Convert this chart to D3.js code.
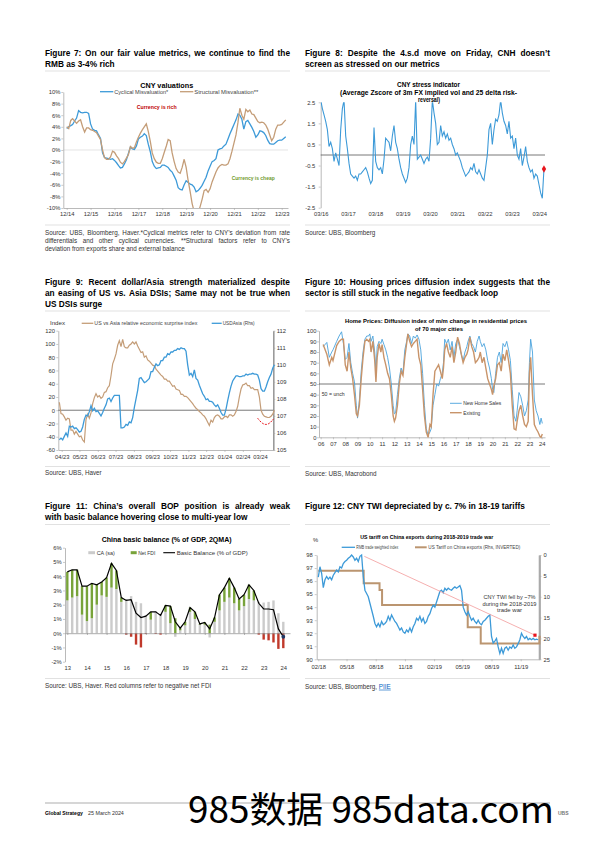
<!DOCTYPE html>
<html><head><meta charset="utf-8">
<script src="https://cdn.jsdelivr.net/npm/d3@7"></script>
<style>
body{margin:0;background:#fff;}
#page{position:relative;width:595px;height:842px;overflow:hidden;background:#fff;}
</style></head>
<body><div id="page"></div>
<script>
// ---------------- DATA ----------------
// Figure 7: CNY valuations, monthly from Dec 2014 (%)
const cyclical7 = [3.7,4.0,4.2,4.4,5.0,5.5,6.8,6.5,6.4,6.5,6.5,6.3,
4.5,3.6,3.4,3.3,2.6,2.0,-0.5,-1.3,-1.4,-1.5,-1.6,-1.5,
-1.8,-2.2,-2.7,-3.1,-3.0,-2.4,-1.7,-0.6,0.5,0.2,0.1,0.7,
1.9,2.2,2.4,2.8,2.5,1.0,-0.3,-2.0,-2.8,-3.2,-3.1,-3.0,
-2.6,-2.6,-2.8,-3.0,-3.5,-3.8,-4.5,-5.2,-6.5,-6.8,-6.9,-6.0,
-5.3,-5.6,-5.9,-6.0,-6.4,-7.2,-7.0,-6.6,-6.1,-5.4,-4.7,-3.6,
-2.8,-2.0,-1.8,-1.5,0.0,0.2,0.3,0.7,1.0,1.9,2.8,3.6,
4.4,5.2,6.2,6.0,5.3,3.6,4.9,5.1,4.5,3.9,3.2,2.2,
2.6,3.3,3.2,3.0,2.5,1.7,1.1,1.0,1.0,1.3,1.6,1.7,
1.7,2.0,2.3];
const structural7 = [4.0,3.7,5.1,5.4,5.0,4.6,5.0,5.2,4.0,3.1,3.8,3.8,
3.5,3.4,3.2,3.0,2.4,1.8,0.0,-1.3,-1.6,-1.6,-1.2,-0.2,
-0.4,-1.0,-1.5,-2.1,-2.4,-2.0,-1.4,-0.8,0.6,0.3,0.4,1.4,
2.2,2.9,3.5,4.0,4.5,3.2,1.5,-0.5,-1.5,-2.1,-2.3,-2.3,
-1.5,-0.4,0.7,1.8,1.6,-0.5,-2.0,-3.2,-3.8,-4.0,-3.0,-1.6,
-3.0,-5.3,-7.2,-9.2,-10.6,-11.0,-10.8,-9.8,-8.5,-7.0,-6.8,-7.3,
-6.7,-5.5,-4.6,-3.8,-3.1,-2.7,-2.5,-2.6,-2.6,-2.4,-1.5,-0.2,
1.2,2.6,4.8,7.2,6.0,5.3,7.0,6.6,6.9,6.2,6.1,5.5,
4.9,4.7,4.8,4.7,4.3,3.6,2.6,1.6,2.2,3.6,4.3,4.3,
4.4,4.8,5.2];
const ticks7 = ["12/14","12/15","12/16","12/17","12/18","12/19","12/20","12/21","12/22","12/23"];

// Figure 8: CNY stress indicator (z-score), from Mar 2016
const stress8 = [2.6,2.2,1.9,1.6,1.2,0.4,0.6,0.3,-0.3,0.1,
-0.2,-0.5,1.2,2.2,2.6,0.9,0.3,-0.4,-0.9,-1.0,
-1.1,-1.0,-1.2,-0.9,-0.9,-0.8,-0.7,-0.6,-0.8,-1.1,
-1.35,-1.2,1.3,-0.3,-0.6,-0.7,-0.6,-0.9,-0.2,0.8,
0.7,0.6,0.2,0.9,1.4,0.6,0.3,-0.2,-0.6,-0.9,
-1.1,-1.3,-1.1,-0.6,0.5,0.9,0.5,2.6,-0.2,-0.1,
0.0,-0.2,-0.4,-0.2,-0.1,-0.3,0.8,2.6,2.0,1.5,
0.5,0.6,1.4,0.9,1.1,0.8,1.0,0.7,0.8,0.5,
0.3,0.0,0.1,-0.1,-0.3,-0.6,-0.8,-1.0,-0.9,-0.8,
-0.6,-0.7,-0.4,-0.8,-0.9,-0.7,-0.9,-1.1,-1.2,-0.6,
0.0,1.2,1.5,0.5,1.2,1.7,1.6,1.9,2.6,2.0,
1.6,1.4,1.0,1.6,0.8,0.9,0.3,0.8,0.0,-0.2,
0.3,-0.5,-0.1,0.4,-0.3,-0.6,-0.8,-0.7,-1.1,-0.9,
-1.0,-1.4,-1.8,-2.05,-0.66];
const ticks8 = ["03/16","03/17","03/18","03/19","03/20","03/21","03/22","03/23","03/24"];

// Figure 9: US vs Asia surprise index (lhs) and USDAsia (rhs), from late Mar 2023
const surprise9 = [12,-5,-6,-10,-15,-12,-13,-30,-30,-36,
-32,-36,-40,-39,-45,-48,-14,-6,-12,-4,
10,19,25,20,22,18,20,27,28,34,
37,52,70,77,85,98,105,96,107,96,
94,94,98,100,103,100,103,97,92,87,
88,80,82,76,74,71,68,67,62,59,
56,53,51,47,47,44,44,40,36,37,
32,31,30,24,24,21,21,19,16,13,
10,6,3,1,-2,-4,-7,-9,-13,-18,
-23,-15,-18,-11,-8,-7,-9,-13,-13,-10,
-9,-11,-7,-7,-9,-7,-2,6,20,32,
38,39,41,37,37,33,34,31,31,31,
20,0,-6,-9,-10,-11,-11,-9,-6,0];
const usdasia9 = [105.6,105.7,105.6,105.8,106.0,105.8,106.4,106.35,106.4,106.25,
106.3,106.2,106.05,106.1,106.35,106.8,107.05,107.0,107.25,107.6,
107.3,107.45,107.25,107.3,107.15,107.0,107.2,107.45,107.65,108.0,
108.05,107.85,108.05,108.2,108.2,108.2,108.2,106.3,106.3,106.35,
106.5,106.45,106.65,106.6,106.9,107.5,108.0,108.5,109.2,109.25,
109.1,108.95,109.0,109.1,109.2,109.6,109.6,109.85,110.05,109.95,
110.0,110.25,110.25,110.45,110.45,110.65,110.6,110.75,110.75,110.85,
110.85,110.95,110.9,111.0,110.95,110.95,110.8,110.0,109.4,109.5,
109.3,109.7,109.2,109.1,108.8,108.55,108.3,108.15,107.95,108.0,
107.85,107.85,107.8,107.65,107.55,107.65,107.45,107.2,107.05,107.05,
107.4,107.9,108.35,108.75,109.05,109.2,109.35,109.35,109.3,109.3,
109.35,109.35,109.45,109.4,109.45,109.45,109.5,109.45,109.45,109.4,
109.1,108.6,108.45,108.45,108.7,109.0,109.25,109.45,109.8,110.0];

// Figure 10: Home price diffusion index
const years10 = [2006.2,2006.5,2006.7,2006.9,
2007.0,2007.3,2007.5,2007.7,2007.85,
2008.0,2008.15,2008.3,2008.45,2008.6,2008.75,2008.9,
2009.0,2009.15,2009.3,2009.45,2009.6,2009.75,2009.9,
2010.0,2010.1,2010.25,2010.4,2010.5,2010.6,2010.75,2010.9,
2011.0,2011.15,2011.3,2011.45,2011.6,2011.75,2011.9,
2012.0,2012.1,2012.25,2012.4,2012.55,2012.7,2012.85,
2013.0,2013.1,2013.25,2013.4,2013.55,2013.7,2013.85,
2014.0,2014.15,2014.3,2014.45,2014.6,2014.75,2014.9,
2015.0,2015.15,2015.3,2015.45,2015.6,2015.75,2015.9,
2016.0,2016.1,2016.25,2016.4,2016.55,2016.7,2016.85,
2017.0,2017.15,2017.3,2017.45,2017.6,2017.75,2017.9,
2018.0,2018.15,2018.3,2018.45,2018.6,2018.75,2018.9,
2019.0,2019.15,2019.3,2019.45,2019.6,2019.75,2019.9,
2020.0,2020.1,2020.25,2020.4,2020.55,2020.7,2020.85,
2021.0,2021.15,2021.3,2021.45,2021.6,2021.75,2021.9,
2022.0,2022.15,2022.3,2022.45,2022.6,2022.75,2022.9,
2023.0,2023.1,2023.25,2023.4,2023.55,2023.7,2023.85,2023.95,
2024.05];
const newHome10 = [85,89,75,80,
82,90,95,99,88,
73,75,88,70,60,52,30,
18,35,62,80,92,95,95,
97,90,95,80,62,85,90,88,
92,87,82,75,65,50,30,
22,23,40,55,65,60,82,
90,97,95,88,95,93,96,
92,82,60,30,8,2,5,
8,30,40,50,48,55,60,
70,92,88,92,82,90,75,
88,92,85,78,72,80,85,
90,95,88,85,80,90,95,
90,85,88,82,72,65,55,
45,42,60,75,80,70,88,
85,90,82,72,45,20,15,
25,42,38,30,20,25,35,
70,92,80,35,25,20,12,18,
13];
const existing10 = [87,78,68,75,
72,86,90,92,92,
68,62,80,65,55,40,22,
20,30,55,75,90,92,90,
92,80,90,72,52,75,88,80,
87,75,68,60,55,40,20,
15,18,30,50,62,58,75,
88,97,90,85,88,90,92,
75,68,45,20,5,0,12,
10,40,62,65,68,62,55,
65,82,88,80,75,85,70,
80,94,88,78,70,75,78,
82,94,85,80,70,72,75,
80,70,75,65,55,50,45,
40,48,55,68,70,62,78,
72,82,72,60,30,8,7,
15,25,30,20,12,10,15,
60,75,40,12,8,5,1,0,
3];

// Figure 11: China basic balance, quarterly from 2013 (% of GDP)
const ca11 = [2.3,2.5,2.6,1.3, 0.85,1.05,2.0,2.65, 2.55,3.2,3.1,2.2, 2.4,2.6,2.2,2.1,
1.25,0.95,1.55,1.35, 1.5,0.7,-0.25,0.2, 0.55,1.5,1.0,0.6, 0.6,-0.3,0.8,1.6,
2.2,2.5,2.1,1.6, 1.9,2.4,2.3,2.2, 2.15,2.2,2.3,1.4, 0.8];
const fdi11 = [2.0,1.95,1.85,2.0, 2.45,2.45,1.4,0.95, 1.35,1.7,1.3,0.3, -0.1,-0.25,-0.8,-1.0,
-0.05,0.55,-0.05,-0.1, 0.45,1.2,1.05,0.15, 0.25,0.3,0.5,0.05, 0.15,0.6,0.3,1.1,
1.0,1.35,1.1,0.8, 0.8,1.0,0.7,-0.1, -0.45,-0.5,-0.65,-1.1, -1.05];
const basic11 = [4.3,4.45,4.45,3.3, 3.3,3.5,3.4,3.6, 3.9,4.9,4.4,2.5, 2.3,2.35,1.4,1.1,
1.2,1.5,1.5,1.25, 1.95,1.9,0.8,0.35, 0.8,1.8,1.5,0.65, 0.75,0.3,1.1,2.7,
3.2,3.85,3.2,2.4, 2.7,3.4,3.0,2.1, 1.7,1.7,1.65,0.3, -0.25];

// Figure 12: RMB trade weighted index and US tariff
const twi12 = [96.3,97.1,96.6,95.5,96.1,96.35,96.15,96.3,96.1,96.45,
96.65,96.85,96.7,97.1,97.0,97.35,97.5,97.6,97.75,97.85,
98.0,97.85,97.6,97.75,97.5,97.9,98.0,96.35,95.3,95.05,
94.8,94.3,93.8,93.3,92.75,92.5,92.75,92.5,92.9,92.65,
92.75,92.9,93.3,93.0,93.4,93.15,92.9,92.75,92.5,92.25,
92.4,92.1,92.0,92.25,92.1,92.4,92.1,92.5,92.75,93.15,
93.0,93.3,92.9,93.15,92.75,92.9,93.3,93.5,93.9,94.15,
94.0,94.4,94.8,95.2,95.3,95.1,95.45,95.3,95.45,95.35,
95.3,95.45,95.55,95.45,95.55,95.65,95.3,94.0,93.65,93.4,
93.65,93.3,93.0,93.15,92.9,92.75,93.0,92.75,92.65,92.9,
93.0,93.15,93.3,93.4,91.75,91.25,91.4,91.6,90.95,90.45,
90.85,90.45,90.85,90.95,90.7,90.95,90.85,91.1,90.85,90.95,
91.2,91.5,92.0,91.75,91.6,91.75,91.5,91.6,91.5,91.6,
91.5,91.55,91.5];
const tariffDates12 = ["2018-02-01","2018-06-24","2018-08-13","2018-08-21","2019-05-18","2019-06-28","2019-12-30","2020-01-03"];
const tariffVals12 = [3.8,6.8,8.4,12.0,17.3,21.2,19.6,19.6];
const trend12 = [["2018-06-26",97.9],["2019-12-16",91.85]];
const ticks12 = ["2018-02-01","2018-05-01","2018-08-01","2018-11-01","2019-02-01","2019-05-01","2019-08-01","2019-11-01"];

// ---------------- DRAWING ----------------
const svg = d3.select('#page').append('svg').attr('width',595).attr('height',842);
const F = '"Liberation Sans", Arial, sans-serif';
const FN = '"Liberation Sans Narrow", "Liberation Sans", Arial, sans-serif';
const BLUE = '#3d9ad8', BROWN = '#c49d78', GREY = '#a8a8a8';
const parse = d3.timeParse('%Y-%m-%d');

function txt(g, s, x, y, o = {}) {
  const t = g.append('text').attr('x', x).attr('y', y).text(s)
    .attr('font-family', o.ff || FN).attr('font-size', o.fs || 5.8)
    .attr('fill', o.fill || '#333').attr('font-weight', o.fw || 'normal')
    .attr('text-anchor', o.anchor || 'start');
  if (o.len) t.attr('textLength', o.len).attr('lengthAdjust', 'spacingAndGlyphs');
  return t;
}
// text whose font size is scaled so its natural width equals w
function fitTxt(g, s, x, y, w, o) {
  const t = txt(g, s, x, y, o);
  const nat = t.node().getComputedTextLength();
  if (nat > 0) t.attr('font-size', (o.fs || 5.8) * w / nat);
  return t;
}
function justify(g, s, x, y, width, o) {
  const words = s.split(' ');
  const nodes = words.map(w => txt(g, w, 0, y, o));
  const ws = nodes.map(n => n.node().getComputedTextLength());
  const gap = (width - d3.sum(ws)) / (words.length - 1);
  let cx = x;
  nodes.forEach((n, i) => { n.attr('x', cx); cx += ws[i] + gap; });
}
function hline(g, x1, x2, y, c, w) { g.append('line').attr('x1', x1).attr('x2', x2).attr('y1', y).attr('y2', y).attr('stroke', c).attr('stroke-width', w); }
function ext(s, r0, r1) { return s.copy().domain([s.invert(r0), s.invert(r1)]).range([r0, r1]); }
function styleAxis(sel, o = {}) {
  sel.attr('font-family', null).attr('font-size', null);
  sel.select('.domain').attr('stroke', o.domain || GREY).attr('stroke-width', o.dw || 0.8);
  if (o.noDomain) sel.select('.domain').remove();
  sel.selectAll('.tick line').attr('stroke', o.tick || GREY).attr('stroke-width', 0.6);
  sel.selectAll('.tick text').attr('font-family', FN).attr('font-size', o.fs || 5.8).attr('fill', '#333');
}
const pct = d => (d < 0 ? '-' : '') + Math.abs(d) + '%';
const num = d => (d < 0 ? '-' : '') + Math.abs(d);

const TF = { ff: F, fs: 8.3, fw: 'bold', fill: '#000' };
const SF = { ff: F, fs: 6.3, fill: '#333' };

// Titles & sources
const T = svg.append('g');
justify(T, 'Figure 7: On our fair value metrics, we continue to find the', 45, 55.5, 245, TF);
txt(T, 'RMB as 3-4% rich', 45, 66.5, TF);
justify(T, 'Figure 8: Despite the 4.s.d move on Friday, CNH doesn\u2019t', 305, 55.5, 245, TF);
txt(T, 'screen as stressed on our metrics', 305, 66.5, TF);
justify(T, 'Figure 9: Recent dollar/Asia strength materialized despite', 45, 284.5, 245, TF);
justify(T, 'an easing of US vs. Asia DSIs; Same may not be true when', 45, 295.5, 245, TF);
txt(T, 'US DSIs surge', 45, 306.5, TF);
justify(T, 'Figure 10: Housing prices diffusion index suggests that the', 305, 284.5, 245, TF);
txt(T, 'sector is still stuck in the negative feedback loop', 305, 295.5, TF);
justify(T, 'Figure 11: China\u2019s overall BOP position is already weak', 45, 508.5, 245, TF);
txt(T, 'with basic balance hovering close to multi-year low', 45, 519.5, TF);
txt(T, 'Figure 12: CNY TWI depreciated by c. 7% in 18-19 tariffs', 305, 508.5, TF);

justify(T, 'Source: UBS, Bloomberg, Haver.*Cyclical metrics refer to CNY\u2019s deviation from rate', 45, 234.8, 245, SF);
justify(T, 'differentials and other cyclical currencies. **Structural factors refer to CNY\u2019s', 45, 243, 245, SF);
txt(T, 'deviation from exports share and external balance', 45, 251.2, SF);
txt(T, 'Source: UBS, Bloomberg', 305, 234.8, SF);
txt(T, 'Source: UBS, Haver', 45, 474.5, SF);
txt(T, 'Source: UBS, Macrobond', 305, 476, SF);
txt(T, 'Source: UBS, Haver. Red columns refer to negative net FDI', 45, 688, SF);
const s12 = txt(T, 'Source: UBS, Bloomberg, ', 305, 688.7, SF);
s12.append('tspan').text('PIIE').attr('fill', '#0563c1').attr('text-decoration', 'underline');

[71, 225, 311, 466.5, 524.5, 678.5].forEach(y => { hline(T, 45, 290, y, '#d4d4d4', 0.7); hline(T, 305, 550, y, '#d4d4d4', 0.7); });

// ---------- Figure 7 ----------
{
  const g = svg.append('g');
  const t0 = new Date(2014, 11, 1);
  const x = ext(d3.scaleTime().domain([t0, new Date(2023, 11, 1)]).range([66.7, 281.7]), 63.3, 288);
  const y = d3.scaleLinear().domain([-10, 10]).range([208, 92]);
  g.append('defs').append('clipPath').attr('id', 'cp7').append('rect').attr('x', 63.3).attr('y', 92).attr('width', 225).attr('height', 116);
  hline(g, 63.3, 288, y(0), '#d8d8d8', 0.7);
  g.append('g').attr('transform', 'translate(63.3,0)').call(d3.axisLeft(y).tickValues(d3.range(-10, 10.1, 2)).tickFormat(pct).tickSize(2).tickPadding(1).tickSizeOuter(0)).call(styleAxis);
  g.append('g').attr('transform', 'translate(0,208)').call(d3.axisBottom(x).tickValues(ticks7.map((_, i) => new Date(2014 + i, 11, 1))).tickFormat((d, i) => ticks7[i]).tickSize(2).tickPadding(2).tickSizeOuter(0)).call(styleAxis);
  const line = d3.line().x((d, i) => x(d3.timeMonth.offset(t0, i))).y(d => y(d));
  const pg = g.append('g').attr('clip-path', 'url(#cp7)');
  pg.append('path').attr('d', line(cyclical7)).attr('fill', 'none').attr('stroke', BLUE).attr('stroke-width', 1.3);
  pg.append('path').attr('d', line(structural7)).attr('fill', 'none').attr('stroke', BROWN).attr('stroke-width', 1.3);
  txt(g, 'CNY valuations', 166.7, 87.5, { ff: F, fs: 7, fw: 'bold', fill: '#000', anchor: 'middle', len: 53 });
  hline(g, 100, 113.3, 91.7, BLUE, 1.3);
  txt(g, 'Cyclical Misvaluation*', 114.3, 93.7, { len: 54, fill: '#444' });
  hline(g, 180, 193.3, 91.7, BROWN, 1.3);
  txt(g, 'Structural Misvaluation**', 194.3, 93.7, { len: 64, fill: '#444' });
  txt(g, 'Currency is rich', 136.7, 108.5, { fw: 'bold', fill: '#c00000', len: 40, fs: 5.5 });
  txt(g, 'Currency is cheap', 231.7, 180.2, { fw: 'bold', fill: '#6f9a2d', len: 43, fs: 5.5 });
}

// ---------- Figure 8 ----------
{
  const g = svg.append('g');
  const x = ext(d3.scaleLinear().domain([2016 + 2 / 12, 2024 + 2 / 12]).range([320.7, 539.3]), 320.7, 546);
  const y = d3.scaleLinear().domain([-2.5, 2.5]).range([207.7, 102.3]);
  const start = 2016 + 2 / 12, step = 5 / 82;
  g.append('defs').append('clipPath').attr('id', 'cp8').append('rect').attr('x', 320.7).attr('y', 102.3).attr('width', 226).attr('height', 105.4);
  g.append('g').attr('transform', 'translate(320.7,0)').call(d3.axisLeft(y).tickValues([2.5, 1.5, 0.5, -0.5, -1.5, -2.5]).tickFormat(num).tickSize(2).tickPadding(3.5).tickSizeOuter(0)).call(styleAxis);
  g.append('g').attr('transform', 'translate(0,207.7)').call(d3.axisBottom(x).tickValues(ticks8.map((_, i) => start + i)).tickFormat((d, i) => ticks8[i]).tickSize(0).tickPadding(4.3)).call(styleAxis, { noDomain: true });
  hline(g, 320.7, 545, y(0), '#555', 0.8);
  const line = d3.line().x((d, i) => x(start + i * step)).y(d => y(d));
  g.append('g').attr('clip-path', 'url(#cp8)').append('path').attr('d', line(stress8)).attr('fill', 'none').attr('stroke', BLUE).attr('stroke-width', 1.1);
  const li = stress8.length - 1;
  g.append('path').attr('d', d3.symbol(d3.symbolDiamond, 16)()).attr('transform', `translate(${x(start + li * step)},${y(stress8[li])})`).attr('fill', '#e8141b');
  const tt = { ff: F, fs: 6.4, fw: 'bold', fill: '#000', anchor: 'middle' };
  txt(g, 'CNY stress indicator', 428.5, 86.5, { ...tt, len: 63 });
  txt(g, '(Average Zscore of 3m FX implied vol and 25 delta risk-', 428.5, 94.5, { ...tt, len: 177 });
  txt(g, 'reversal)', 429, 102.2, { ...tt, len: 22 });
}

// ---------- Figure 9 ----------
{
  const g = svg.append('g');
  const x = ext(d3.scaleTime().domain([new Date(2023, 3, 1), new Date(2024, 2, 1)]).range([61.7, 260]), 58.3, 273.3);
  const yL = d3.scaleLinear().domain([-60, 120]).range([450, 330.7]);
  const yR = d3.scaleLinear().domain([105, 112]).range([450, 330.7]);
  const t0 = new Date(2023, 2, 28).getTime(), stepDays = 2.816;
  const dt = i => new Date(t0 + i * stepDays * 864e5);
  g.append('g').attr('transform', 'translate(58.3,0)').call(d3.axisLeft(yL).tickValues(d3.range(-60, 121, 20)).tickFormat(num).tickSize(2).tickPadding(1.3).tickSizeOuter(0)).call(styleAxis);
  g.append('g').attr('transform', 'translate(273.3,0)').call(d3.axisRight(yR).tickValues(d3.range(105, 112.1, 1)).tickFormat(num).tickSize(2).tickPadding(1.5).tickSizeOuter(0)).call(styleAxis, { domain: '#9a9a9a', dw: 1.6 });
  const months = d3.range(0, 12).map(i => new Date(2023, 3 + i, 1));
  g.append('g').attr('transform', 'translate(0,450)').call(d3.axisBottom(x).tickValues(months).tickFormat(d3.timeFormat('%m/%y')).tickSize(2).tickPadding(3).tickSizeOuter(0)).call(styleAxis);
  hline(g, 58.3, 273.3, yL(0), '#555', 0.8);
  g.append('path').attr('d', d3.line().x((d, i) => x(dt(i))).y(d => yL(d))(surprise9)).attr('fill', 'none').attr('stroke', BROWN).attr('stroke-width', 1.2);
  g.append('path').attr('d', d3.line().x((d, i) => x(dt(i))).y(d => yR(d))(usdasia9)).attr('fill', 'none').attr('stroke', BLUE).attr('stroke-width', 1.3);
  const arc = [[new Date(2024, 1, 26), -12], [new Date(2024, 2, 5), -21], [new Date(2024, 2, 15), -22.5], [new Date(2024, 2, 24), -13]];
  g.append('path').attr('d', d3.line().curve(d3.curveBasis).x(d => x(d[0])).y(d => yL(d[1]))(arc)).attr('fill', 'none').attr('stroke', '#e8141b').attr('stroke-width', 1).attr('stroke-dasharray', '2,1.2');
  txt(g, 'Index', 50, 325, { len: 15 });
  hline(g, 81.7, 93.3, 323.3, BROWN, 1.3);
  txt(g, 'US vs Asia relative economic surprise index', 94.3, 325.3, { len: 103, fill: '#444' });
  hline(g, 211.7, 221.7, 323.3, BLUE, 1.3);
  txt(g, 'USDAsia (Rhs)', 222.7, 325.3, { len: 32, fill: '#444' });
}

// ---------- Figure 10 ----------
{
  const g = svg.append('g');
  const x = ext(d3.scaleLinear().domain([2006, 2024]).range([320.7, 541.7]), 319, 545);
  const y = d3.scaleLinear().domain([0, 100]).range([437.3, 330.7]);
  g.append('g').attr('transform', 'translate(319,0)').call(d3.axisLeft(y).tickValues(d3.range(0, 101, 10)).tickSize(2).tickPadding(0.5).tickSizeOuter(0)).call(styleAxis);
  g.append('g').attr('transform', 'translate(0,437.3)').call(d3.axisBottom(x).tickValues(d3.range(2006, 2025)).tickFormat(d => d3.format('02d')(d % 100)).tickSize(2).tickPadding(2.5).tickSizeOuter(0)).call(styleAxis);
  hline(g, 319, 545, y(50), '#555', 0.8);
  const n = Math.min(years10.length, newHome10.length, existing10.length);
  const idx = d3.range(n);
  g.append('path').attr('d', d3.line().x(i => x(years10[i])).y(i => y(newHome10[i]))(idx)).attr('fill', 'none').attr('stroke', '#4aa3dd').attr('stroke-width', 0.9);
  g.append('path').attr('d', d3.line().x(i => x(years10[i])).y(i => y(existing10[i]))(idx)).attr('fill', 'none').attr('stroke', '#c8946a').attr('stroke-width', 1.4);
  const tt = { ff: F, fs: 5.6, fw: 'bold', fill: '#000', anchor: 'middle' };
  txt(g, 'Home Prices: Diffusion index of m/m change in residential prices', 436, 323.2, { ...tt, len: 182 });
  txt(g, 'of 70 major cities', 439, 331.2, { ...tt, len: 48 });
  txt(g, '50 = unch', 321.7, 396, { len: 23 });
  hline(g, 450, 461.7, 403.3, '#4aa3dd', 0.9);
  txt(g, 'New Home Sales', 463.3, 405.3, { len: 38 });
  hline(g, 450, 461.7, 412.7, '#c8946a', 1.4);
  txt(g, 'Existing', 463.3, 414.7, { len: 17 });
}

// ---------- Figure 11 ----------
{
  const g = svg.append('g');
  const x = ext(d3.scaleLinear().domain([2013, 2024]).range([67.3, 283.3]), 65, 290);
  const y = d3.scaleLinear().domain([-2, 6]).range([661.7, 547.7]);
  g.append('g').attr('transform', 'translate(65,0)').call(d3.axisLeft(y).tickValues(d3.range(-2, 6.1, 1)).tickFormat(pct).tickSize(2).tickPadding(1.3).tickSizeOuter(0)).call(styleAxis);
  g.append('g').attr('transform', 'translate(0,661.7)').call(d3.axisBottom(x).tickValues(d3.range(2013, 2025)).tickFormat(d => d3.format('02d')(d % 100)).tickSize(0).tickPadding(4.6)).call(styleAxis, { noDomain: true });
  const bw = 2.4;
  const q = i => 2013 + i * 0.25;
  ca11.forEach((ca, i) => {
    const f = fdi11[i];
    const pos0 = Math.max(ca, 0), neg0 = Math.min(ca, 0);
    g.append('rect').attr('x', x(q(i)) - bw / 2).attr('width', bw).attr('y', y(pos0)).attr('height', y(neg0) - y(pos0)).attr('fill', '#cbcbcb');
    if (f >= 0) g.append('rect').attr('x', x(q(i)) - bw / 2).attr('width', bw).attr('y', y(pos0 + f)).attr('height', y(pos0) - y(pos0 + f)).attr('fill', '#78a33a');
    else g.append('rect').attr('x', x(q(i)) - bw / 2).attr('width', bw).attr('y', y(neg0)).attr('height', y(neg0 + f) - y(neg0)).attr('fill', '#c0392b');
  });
  g.append('g').attr('transform', `translate(0,${y(0)})`).call(d3.axisBottom(x).tickValues(d3.range(2013, 2025)).tickFormat('').tickSize(1.8).tickSizeOuter(0)).call(styleAxis, { domain: '#888', dw: 0.7, tick: '#888' });
  g.append('path').attr('d', d3.line().x((d, i) => x(q(i))).y(d => y(d))(basic11)).attr('fill', 'none').attr('stroke', '#000').attr('stroke-width', 1.2);
  const li = basic11.length - 1;
  g.append('circle').attr('cx', x(q(li))).attr('cy', y(basic11[li])).attr('r', 1.9).attr('fill', '#1f3864');
  txt(g, 'China basic balance (% of GDP, 2QMA)', 166.7, 541.8, { ff: F, fs: 6.8, fw: 'bold', fill: '#000', anchor: 'middle', len: 130 });
  g.append('rect').attr('x', 88.3).attr('y', 551.2).attr('width', 6.7).attr('height', 3).attr('fill', '#cbcbcb');
  txt(g, 'CA (sa)', 96.7, 554.7, { len: 18 });
  g.append('rect').attr('x', 130.7).attr('y', 551.2).attr('width', 6).attr('height', 3).attr('fill', '#78a33a');
  txt(g, 'Net FDI', 138.3, 554.7, { len: 17 });
  hline(g, 163.3, 175, 552.7, '#000', 1.1);
  txt(g, 'Basic Balance (% of GDP)', 176.7, 554.7, { len: 71 });
}

// ---------- Figure 12 ----------
{
  const g = svg.append('g');
  const x = ext(d3.scaleTime().domain([parse('2018-02-01'), parse('2019-11-01')]).range([318.3, 520.7]), 316.7, 539.3);
  const yL = d3.scaleLinear().domain([90, 98]).range([659.3, 555]);
  const yR = d3.scaleLinear().domain([0, 25]).range([555, 659.3]);
  g.append('g').attr('transform', 'translate(316.7,0)').call(d3.axisLeft(yL).tickValues(d3.range(90, 98.1, 1)).tickSize(2).tickPadding(2).tickSizeOuter(0)).call(styleAxis);
  g.append('g').attr('transform', 'translate(539.3,0)').call(d3.axisRight(yR).tickValues(d3.range(0, 25.1, 5)).tickSize(2.2).tickPadding(2).tickSizeOuter(0)).call(styleAxis, { domain: '#aaaaaa', dw: 2.2 });
  g.append('g').attr('transform', 'translate(0,659.3)').call(d3.axisBottom(x).tickValues(ticks12.map(parse)).tickFormat(d3.timeFormat('%m/%y')).tickSize(2).tickPadding(3.5).tickSizeOuter(0)).call(styleAxis);
  const t0 = parse('2018-02-01').getTime(), stepDays = 5.25;
  g.append('path').attr('d', d3.line().curve(d3.curveStepAfter).x((d, i) => x(parse(tariffDates12[i]))).y(d => yR(d))(tariffVals12)).attr('fill', 'none').attr('stroke', '#bb9570').attr('stroke-width', 2);
  g.append('path').attr('d', d3.line().x((d, i) => x(new Date(t0 + i * stepDays * 864e5))).y(d => yL(d))(twi12)).attr('fill', 'none').attr('stroke', BLUE).attr('stroke-width', 1.3);
  g.append('path').attr('d', d3.line().x(d => x(parse(d[0]))).y(d => yL(d[1]))(trend12)).attr('fill', 'none').attr('stroke', '#f39a9a').attr('stroke-width', 0.8);
  const e = trend12[1];
  g.append('rect').attr('x', x(parse(e[0])) - 1.6).attr('y', yL(e[1]) - 1.6).attr('width', 3.2).attr('height', 3.2).attr('fill', '#e8141b');
  txt(g, 'US tariff on China exports during 2018-2019 trade war', 426.7, 538.6, { ff: F, fs: 5.4, fw: 'bold', fill: '#000', anchor: 'middle', len: 133 });
  txt(g, '%', 313, 542, {});
  hline(g, 341.7, 355, 547.3, BLUE, 1.3);
  txt(g, 'RMB trade weighted index', 356.3, 549.3, { len: 42, fill: '#444' });
  hline(g, 415, 426.7, 547.3, '#bb9570', 2);
  txt(g, 'US Tariff on China exports (Rhs, INVERTED)', 428.3, 549.3, { len: 92, fill: '#444' });
  const at = { anchor: 'middle', fs: 6.2, fill: '#333' };
  txt(g, 'CNY TWI fell by ~7%', 509.5, 598.8, { ...at, len: 52 });
  txt(g, 'during the 2018-2019', 509.5, 605.5, { ...at, len: 54 });
  txt(g, 'trade war', 509.5, 612, { ...at, len: 25 });
}

// ---------- Footer & watermark ----------
{
  const g = svg.append('g');
  hline(g, 45, 550, 803, '#777', 0.6);
  fitTxt(g, 'Global Strategy', 45, 815, 38, { ff: F, fs: 6.5, fw: 'bold', fill: '#000' });
  fitTxt(g, '25 March 2024', 88, 815, 36, { ff: F, fs: 6, fill: '#333' });
  const wm = fitTxt(g, '985数据 985data.com', 188, 823, 366, { ff: '"Noto Sans CJK SC", sans-serif', fs: 38, fill: '#000' });
  const wEnd = 188 + wm.node().getComputedTextLength();
  txt(g, 'UBS', Math.max(558, wEnd + 3), 815, { ff: F, fs: 5, fw: 'bold', fill: '#777' });
}
</script>
</body></html>
